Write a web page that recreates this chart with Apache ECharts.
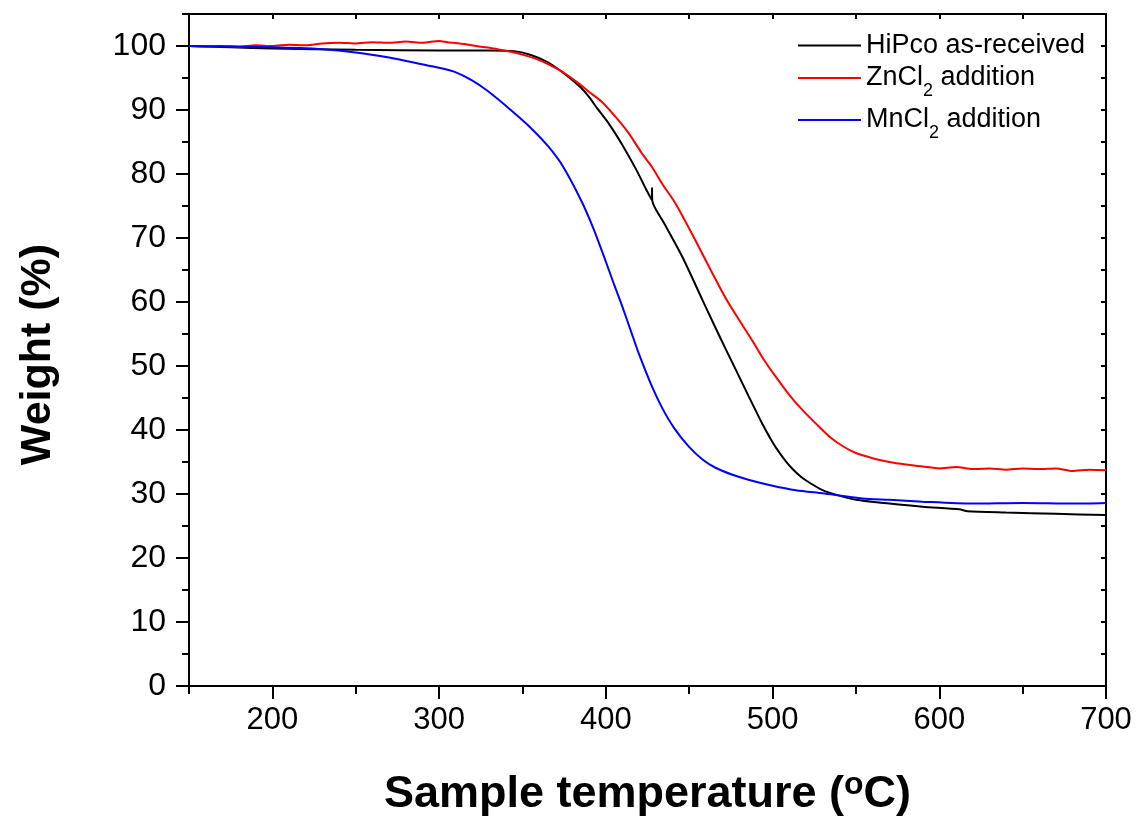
<!DOCTYPE html>
<html>
<head>
<meta charset="utf-8">
<script src="https://cdn.jsdelivr.net/npm/echarts@6/dist/echarts.min.js"></script>
<style>
html, body { margin: 0; padding: 0; background: #fff; }
#chart { width: 1140px; height: 825px; }
</style>
</head>
<body>
<div id="chart"></div>
<script>
// TGA curves: temperature (°C) and weight (%)
var hipcoT = [150,175,200,250,300,330,345,355,365,375,385,390,395,402,410,418,424,427.6,427.7,427.9,435,445.8,458,465,472,478,486,494,500,504,508,512,517,522,530,538,550,570,590,612,617,640,670,700];
var hipcoW = [100.0,99.8,99.6,99.4,99.3,99.3,99.2,98.6,97.5,95.7,93.5,92.0,90.2,87.8,84.5,80.8,77.7,75.9,77.8,75.8,72.3,67.1,60.3,56.4,52.6,49.4,45.1,40.9,38.1,36.5,35.1,33.9,32.7,31.8,30.6,29.9,29.1,28.5,28.0,27.6,27.3,27.1,26.9,26.7];

var znT = [150,160,170,180,190,200,210,220,230,240,250,260,270,280,290,300,305,315,325,335,345,352,360,368,375.5,383.5,389.6,397.6,405.6,413.7,421.7,427.7,434,441.8,452,461.9,471.9,481.9,488,495,502,510,518,526,534,542,550,560,570,580,590,600,610,620,630,640,650,660,670,680,690,700];
var znW = [100.0,99.9,100.0,99.9,100.1,100.0,100.2,100.1,100.4,100.5,100.4,100.6,100.5,100.7,100.5,100.8,100.6,100.3,99.9,99.5,99.0,98.5,97.8,96.8,95.7,94.2,92.9,91.3,89.0,86.4,83.2,81.1,78.4,75.4,70.5,65.5,60.6,56.4,53.9,50.9,48.3,45.5,43.1,41.0,39.0,37.5,36.4,35.6,35.0,34.6,34.3,34.0,34.2,33.9,34.0,33.8,34.0,33.9,34.0,33.6,33.8,33.7];

var mnT = [150,200,230,250,270,289,300,309,320,329,343,355,365.5,374.5,385.5,393,399.6,405,409.6,415,419.7,427,433.7,441,449.8,458,465.8,476,486,500,514,530,554,570,590,620,650,680,700];
var mnW = [100.0,99.8,99.5,99.0,98.2,97.2,96.6,96.0,94.6,93.0,90.0,87.2,84.3,81.1,75.7,71.2,66.6,62.7,59.5,55.5,52.0,47.2,43.5,40.3,37.4,35.4,34.1,33.0,32.2,31.3,30.6,30.1,29.3,29.1,28.8,28.5,28.6,28.5,28.6];

var seriesNames = ['HiPco as-received', 'ZnCl2 addition', 'MnCl2 addition'];
var legendText = ['{n|HiPco as-received}', '{n|ZnCl}{s|2}{n| addition}', '{n|MnCl}{s|2}{n| addition}'];
var legendTops = [32, 56, 98];

// tick values
var xMajor = [200,300,400,500,600,700];
var xMinor = [150,250,350,450,550,650];
var yMajor = [0,10,20,30,40,50,60,70,80,90,100];
var yMinor = [5,15,25,35,45,55,65,75,85,95,105];

var font = 'Liberation Sans, Arial, sans-serif';
var black = '#000';

function pairs(t, w) {
    return t.map(function (v, i) { return [v, w[i]]; });
}

function axis(min, max, pos, ticks, len, inside, showLine) {
    return {
        type: 'value', min: min, max: max, position: pos,
        axisLine: { show: showLine, onZero: false, lineStyle: { color: black, width: 2 } },
        axisTick: { show: true, inside: inside, length: len, customValues: ticks, lineStyle: { color: black, width: 2 } },
        axisLabel: { show: false },
        splitLine: { show: false }
    };
}

// one legend per row so that each row sits where it does in the picture
function legendRow(i) {
    return {
        orient: 'vertical', left: 798, top: legendTops[i], padding: 0,
        itemWidth: 63, itemHeight: 2, icon: 'rect',
        data: [seriesNames[i]],
        formatter: function (name) { return legendText[seriesNames.indexOf(name)]; },
        textStyle: {
            fontSize: 27, fontFamily: font, color: black,
            rich: {
                n: { fontSize: 27, fontFamily: font, color: black, lineHeight: 28 },
                s: { fontSize: 18, fontFamily: font, color: black, lineHeight: 6, padding: [26, 0, 0, 0] }
            }
        }
    };
}

var xMain = axis(150, 700, 'bottom', xMajor, 13, false, true);
xMain.axisLabel = { show: true, customValues: xMajor, fontSize: 31, color: black, fontFamily: font, margin: 19 };
xMain.name = '{b|Sample temperature (}{s|o}{b|C)}';
xMain.nameLocation = 'middle';
xMain.nameGap = 83;
xMain.nameTextStyle = {
    fontSize: 45, fontWeight: 'bold', fontFamily: font, color: black,
    rich: {
        b: { fontSize: 45, fontWeight: 'bold', fontFamily: font, color: black, lineHeight: 52 },
        s: { fontSize: 32, fontFamily: font, color: black, lineHeight: 32, verticalAlign: 'top' }
    }
};

var yMain = axis(0, 105, 'left', yMajor, 13, false, true);
yMain.axisLabel = { show: true, customValues: yMajor, fontSize: 32, color: black, fontFamily: font, margin: 23 };
yMain.name = 'Weight (%)';
yMain.nameLocation = 'middle';
yMain.nameGap = 129;
yMain.nameTextStyle = { fontSize: 43, fontWeight: 'bold', fontFamily: font, color: black, padding: [0, 9, 0, 0] };

var colors = [black, '#ff0000', '#0000ff'];
var data = [pairs(hipcoT, hipcoW), pairs(znT, znW), pairs(mnT, mnW)];

var chart = echarts.init(document.getElementById('chart'));
chart.setOption({
    animation: false,
    backgroundColor: '#fff',
    grid: { left: 189, right: 34, top: 14, bottom: 139, containLabel: false, outerBoundsMode: 'none' },
    legend: [legendRow(0), legendRow(1), legendRow(2)],
    xAxis: [
        xMain,
        axis(150, 700, 'bottom', xMinor, 8, false, false),
        axis(150, 700, 'top', xMajor.concat(xMinor), 5, true, true)
    ],
    yAxis: [
        yMain,
        axis(0, 105, 'left', yMinor, 7, false, false),
        axis(0, 105, 'right', yMajor.concat(yMinor), 5, true, true)
    ],
    series: seriesNames.map(function (name, i) {
        return {
            name: name, type: 'line', xAxisIndex: 0, yAxisIndex: 0,
            data: data[i], showSymbol: false, symbol: 'none',
            smooth: 0.25,
            itemStyle: { color: colors[i] },
            lineStyle: { color: colors[i], width: 2 }
        };
    })
});
</script>
</body>
</html>
